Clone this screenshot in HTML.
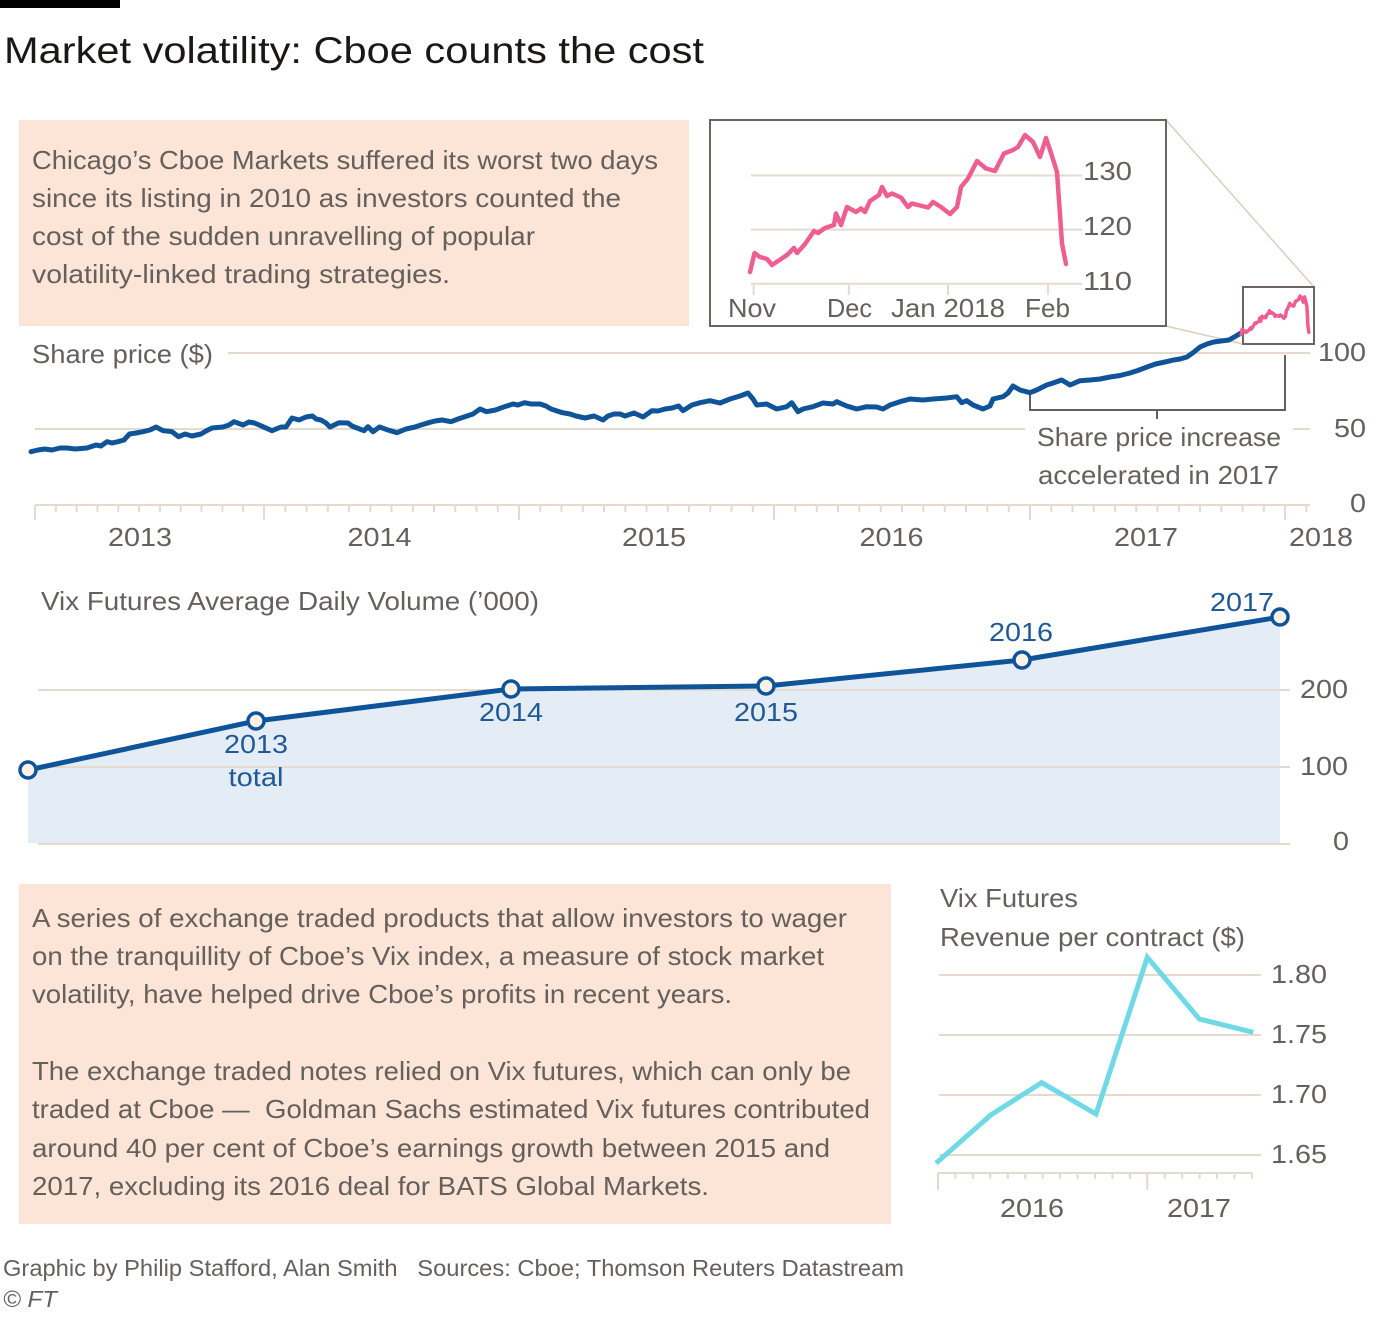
<!DOCTYPE html>
<html>
<head>
<meta charset="utf-8">
<style>
  html, body { margin: 0; padding: 0; background: #ffffff; }
  svg { display: block; }
  text { font-family: "Liberation Sans", "DejaVu Sans", sans-serif; }
</style>
</head>
<body>
<svg width="1400" height="1340" viewBox="0 0 1400 1340" xmlns="http://www.w3.org/2000/svg">
  <rect x="0" y="0" width="1400" height="1340" fill="#ffffff"/>

  <!-- top bar + title -->
  <rect x="0" y="0" width="120" height="8" fill="#000000"/>
  <text x="4" y="63" font-size="37" fill="#1a1817" textLength="700" lengthAdjust="spacingAndGlyphs">Market volatility: Cboe counts the cost</text>

  <!-- intro box -->
  <rect x="19" y="120" width="670" height="206" fill="#fce4d6"/>
  <g font-size="26" fill="#66605c">
    <text x="32" y="169" textLength="626" lengthAdjust="spacingAndGlyphs">Chicago’s Cboe Markets suffered its worst two days</text>
    <text x="32" y="207" textLength="589" lengthAdjust="spacingAndGlyphs">since its listing in 2010 as investors counted the</text>
    <text x="32" y="245" textLength="503" lengthAdjust="spacingAndGlyphs">cost of the sudden unravelling of popular</text>
    <text x="32" y="283" textLength="418" lengthAdjust="spacingAndGlyphs">volatility-linked trading strategies.</text>
  </g>

  <!-- connector lines -->
  <line x1="1166" y1="120" x2="1314" y2="287" stroke="#dccdbd" stroke-width="1.5"/>
  <line x1="1166" y1="326" x2="1243" y2="344" stroke="#dccdbd" stroke-width="1.5"/>

  <!-- inset chart -->
  <rect x="710" y="120" width="456" height="206" fill="#ffffff" stroke="#6b6461" stroke-width="2"/>
  <g stroke="#e6d9ce" stroke-width="2">
    <line x1="751" y1="175.5" x2="1082" y2="175.5"/>
    <line x1="751" y1="229.6" x2="1082" y2="229.6"/>
    <line x1="751" y1="283.7" x2="1082" y2="283.7"/>
    <path d="M753.6,283.7 V295 M848.8,283.7 V295 M948,283.7 V295 M1048,283.7 V295"/>
  </g>
  <g font-size="26" fill="#66605c">
    <text x="1083" y="180" textLength="49" lengthAdjust="spacingAndGlyphs">130</text>
    <text x="1083" y="235" textLength="49" lengthAdjust="spacingAndGlyphs">120</text>
    <text x="1083" y="290" textLength="49" lengthAdjust="spacingAndGlyphs">110</text>
    <text x="728" y="317" textLength="48" lengthAdjust="spacingAndGlyphs">Nov</text>
    <text x="827" y="317" textLength="45" lengthAdjust="spacingAndGlyphs">Dec</text>
    <text x="891" y="317" textLength="114" lengthAdjust="spacingAndGlyphs">Jan 2018</text>
    <text x="1025" y="317" textLength="45" lengthAdjust="spacingAndGlyphs">Feb</text>
  </g>
  <polyline fill="none" stroke="#ee5f8f" stroke-width="4.5" stroke-linejoin="round" stroke-linecap="round"
    points="750,272 754.5,253 760,257 767,259 772,265 778,261 787,255 794,248 797,253 805,244 814,231 818,233 825,228 834,225 836,213.5 841,225 847,207 856,212 861,208.5 865,212 870,201 879,195 882,187 887,196 892,193.5 901,197.5 908,207 912,203.5 928,207.5 933,202 941,207 950,214 957,207 961,187 968,178.5 977,161 986,168.5 995,171 1004,153.5 1013,150 1018,147 1025,135 1033,142 1040,157 1046,138 1051,153 1057,172 1062,243.5 1066,264"/>

  <!-- share price main chart -->
  <g stroke="#e6d9ce" stroke-width="2">
    <line x1="228" y1="353" x2="1310" y2="353"/>
    <line x1="35" y1="429" x2="1025" y2="429"/>
    <line x1="1293" y1="429" x2="1310" y2="429"/>
    <line x1="35" y1="505" x2="1310" y2="505"/>
    <path d="M35,505 V520 M264,505 V520 M519,505 V520 M774,505 V520 M1030,505 V520 M1285,505 V520"/>
    <path d="M55.8,505 v7 M76.6,505 v7 M97.5,505 v7 M118.3,505 v7 M139.1,505 v7 M159.9,505 v7 M180.7,505 v7 M201.5,505 v7 M222.4,505 v7 M243.2,505 v7
             M285.3,505 v7 M306.5,505 v7 M327.8,505 v7 M349,505 v7 M370.3,505 v7 M391.5,505 v7 M412.8,505 v7 M434,505 v7 M455.3,505 v7 M476.5,505 v7 M497.8,505 v7
             M540.3,505 v7 M561.5,505 v7 M582.8,505 v7 M604,505 v7 M625.3,505 v7 M646.5,505 v7 M667.8,505 v7 M689,505 v7 M710.3,505 v7 M731.5,505 v7 M752.8,505 v7
             M795.3,505 v7 M816.7,505 v7 M838,505 v7 M859.3,505 v7 M880.7,505 v7 M902,505 v7 M923.3,505 v7 M944.7,505 v7 M966,505 v7 M987.3,505 v7 M1008.7,505 v7
             M1051.3,505 v7 M1072.5,505 v7 M1093.8,505 v7 M1115,505 v7 M1136.3,505 v7 M1157.5,505 v7 M1178.8,505 v7 M1200,505 v7 M1221.3,505 v7 M1242.5,505 v7 M1263.8,505 v7
             M1306.3,505 v7"/>
  </g>
  <g font-size="26" fill="#66605c">
    <text x="32" y="363" textLength="181" lengthAdjust="spacingAndGlyphs">Share price ($)</text>
    <text x="1318" y="361" textLength="48" lengthAdjust="spacingAndGlyphs">100</text>
    <text x="1334" y="437" textLength="32" lengthAdjust="spacingAndGlyphs">50</text>
    <text x="1350" y="512" textLength="16" lengthAdjust="spacingAndGlyphs">0</text>
    <text x="140" y="546" text-anchor="middle" textLength="64" lengthAdjust="spacingAndGlyphs">2013</text>
    <text x="379.5" y="546" text-anchor="middle" textLength="64" lengthAdjust="spacingAndGlyphs">2014</text>
    <text x="654" y="546" text-anchor="middle" textLength="64" lengthAdjust="spacingAndGlyphs">2015</text>
    <text x="891.5" y="546" text-anchor="middle" textLength="64" lengthAdjust="spacingAndGlyphs">2016</text>
    <text x="1146" y="546" text-anchor="middle" textLength="64" lengthAdjust="spacingAndGlyphs">2017</text>
    <text x="1321" y="546" text-anchor="middle" textLength="64" lengthAdjust="spacingAndGlyphs">2018</text>
    <text x="1037" y="446" textLength="244" lengthAdjust="spacingAndGlyphs">Share price increase</text>
    <text x="1038" y="484" textLength="241" lengthAdjust="spacingAndGlyphs">accelerated in 2017</text>
  </g>
  <!-- annotation bracket -->
  <path d="M1030,392 V410 H1285 V355 M1157,410 V419" fill="none" stroke="#66605c" stroke-width="2"/>

  <polyline fill="none" stroke="#0f5499" stroke-width="5" stroke-linejoin="round" stroke-linecap="round"
    points="31,451.7 38,450 44.6,449 52,450 60,448 67,448 75,449 87,448 96,445 101,446 107,441.7 112,443 118,441.7 124,440 129.5,434 136,433 143,431.7 150,430 156,427 163,430.7 172,431.7 178.6,436.7 185,434 192,436 201,434 206,431 212,428 223,427 229,425 234,421.7 243,425 249,422 254.5,423 263,426.7 272,430.7 281,427 286,427 292,418 299,420 306,417 312.5,416 316,419 321,420 326,423 330,427 339,422.7 348,423 352,426 357,428 364,430.7 368,426.7 373,431.7 379.5,427 388,430 397,432.7 406,429 415,427 421,425 428.6,422.7 435,421 442,420 451,421.7 458,419 464,417 473,414 480,409 486.6,411.7 495.5,410 504.5,406.7 513,404 518,405 524.5,402.7 531,404 540,404 546,406 551,409 557,411 562.5,412.7 570,414 576,416 585,418 594,416 603,420 608,416 614,414 620,414 625,416 634,413 643,417 652,410.7 658,411 665,409 672,408 678.6,406 683,410.7 692,405 700,402.7 710,400.7 720,403 730,399 740,396 748,393 753,399 756.7,405 766.7,404 776.7,409 786.7,406.7 791.7,402.7 798,411.7 803,409 813,406.7 823,403 833,404 836.7,401.7 846.7,406 856.7,409 866.7,406.7 876.7,407 883,409 890,405 900,401.7 910,399 923,400 933,399 946.7,398 956.7,396.7 961.7,402.7 966.7,400.7 973,405 983,409 990,406 993,399 1003,396.7 1008,393 1013,386 1020,390 1030,392.7 1036.7,390 1046.7,385 1053,383 1061.7,380 1070,385 1080,380.7 1090,380 1100,379 1110,377 1120,375.5 1130,373 1137.8,370.5 1147,367 1155.6,364 1165,362 1173.5,360 1180,359 1187,357 1194,352 1200,347 1207,344 1213.7,342 1221,341 1229,340 1236,336 1241,333"/>

  <!-- small box + mini pink -->
  <rect x="1243" y="287" width="71" height="57" fill="none" stroke="#6b6461" stroke-width="2"/>
  <g transform="matrix(0.214 0 0 0.281 1080.7 258.1)">
    <polyline fill="none" stroke="#ee5f8f" stroke-width="3.5" stroke-linejoin="round" stroke-linecap="round" vector-effect="non-scaling-stroke"
      points="750,272 754.5,253 760,257 767,259 772,265 778,261 787,255 794,248 797,253 805,244 814,231 818,233 825,228 834,225 836,213.5 841,225 847,207 856,212 861,208.5 865,212 870,201 879,195 882,187 887,196 892,193.5 901,197.5 908,207 912,203.5 928,207.5 933,202 941,207 950,214 957,207 961,187 968,178.5 977,161 986,168.5 995,171 1004,153.5 1013,150 1018,147 1025,135 1033,142 1040,157 1046,138 1051,153 1057,172 1062,243.5 1066,264"/>
  </g>

  <!-- Vix futures ADV chart -->
  <text x="41" y="610" font-size="26" fill="#66605c" textLength="498" lengthAdjust="spacingAndGlyphs">Vix Futures Average Daily Volume (’000)</text>
  <polygon points="28,770 256,721 511,689 766,686 1022,660 1280,617 1280,843 28,843" fill="#e4ecf5"/>
  <g stroke="#e6d9ce" stroke-width="2">
    <line x1="38" y1="690" x2="1290" y2="690"/>
    <line x1="38" y1="767" x2="1290" y2="767"/>
    <line x1="38" y1="844" x2="1290" y2="844"/>
  </g>
  <polyline points="28,770 256,721 511,689 766,686 1022,660 1280,617" fill="none" stroke="#0f5499" stroke-width="5" stroke-linejoin="round"/>
  <g fill="#fff1e5" stroke="#0f5499" stroke-width="3.5">
    <circle cx="28" cy="770" r="8"/>
    <circle cx="256" cy="721" r="8"/>
    <circle cx="511" cy="689" r="8"/>
    <circle cx="766" cy="686" r="8"/>
    <circle cx="1022" cy="660" r="8"/>
    <circle cx="1280" cy="617" r="8"/>
  </g>
  <g font-size="26" fill="#1f5a96">
    <text x="256" y="753" text-anchor="middle" textLength="64" lengthAdjust="spacingAndGlyphs">2013</text>
    <text x="256" y="786" text-anchor="middle" textLength="55" lengthAdjust="spacingAndGlyphs">total</text>
    <text x="511" y="721" text-anchor="middle" textLength="64" lengthAdjust="spacingAndGlyphs">2014</text>
    <text x="766" y="721" text-anchor="middle" textLength="64" lengthAdjust="spacingAndGlyphs">2015</text>
    <text x="1021" y="641" text-anchor="middle" textLength="64" lengthAdjust="spacingAndGlyphs">2016</text>
    <text x="1242" y="611" text-anchor="middle" textLength="64" lengthAdjust="spacingAndGlyphs">2017</text>
  </g>
  <g font-size="26" fill="#66605c">
    <text x="1300" y="698" textLength="48" lengthAdjust="spacingAndGlyphs">200</text>
    <text x="1300" y="775" textLength="48" lengthAdjust="spacingAndGlyphs">100</text>
    <text x="1333" y="850" textLength="16" lengthAdjust="spacingAndGlyphs">0</text>
  </g>

  <!-- lower text box -->
  <rect x="19" y="884" width="872" height="340" fill="#fce4d6"/>
  <g font-size="26" fill="#66605c">
    <text x="32" y="927" textLength="815" lengthAdjust="spacingAndGlyphs">A series of exchange traded products that allow investors to wager</text>
    <text x="32" y="965" textLength="792" lengthAdjust="spacingAndGlyphs">on the tranquillity of Cboe’s Vix index, a measure of stock market</text>
    <text x="32" y="1003" textLength="700" lengthAdjust="spacingAndGlyphs">volatility, have helped drive Cboe’s profits in recent years.</text>
    <text x="32" y="1080" textLength="819" lengthAdjust="spacingAndGlyphs">The exchange traded notes relied on Vix futures, which can only be</text>
    <text x="32" y="1118" textLength="838" lengthAdjust="spacingAndGlyphs">traded at Cboe —&#160;&#160;Goldman Sachs estimated Vix futures contributed</text>
    <text x="32" y="1157" textLength="798" lengthAdjust="spacingAndGlyphs">around 40 per cent of Cboe’s earnings growth between 2015 and</text>
    <text x="32" y="1195" textLength="677" lengthAdjust="spacingAndGlyphs">2017, excluding its 2016 deal for BATS Global Markets.</text>
  </g>

  <!-- revenue per contract chart -->
  <g font-size="26" fill="#66605c">
    <text x="940" y="907" textLength="138" lengthAdjust="spacingAndGlyphs">Vix Futures</text>
    <text x="940" y="946" textLength="305" lengthAdjust="spacingAndGlyphs">Revenue per contract ($)</text>
    <text x="1271" y="983" textLength="56" lengthAdjust="spacingAndGlyphs">1.80</text>
    <text x="1271" y="1043" textLength="56" lengthAdjust="spacingAndGlyphs">1.75</text>
    <text x="1271" y="1103" textLength="56" lengthAdjust="spacingAndGlyphs">1.70</text>
    <text x="1271" y="1163" textLength="56" lengthAdjust="spacingAndGlyphs">1.65</text>
    <text x="1032" y="1217" text-anchor="middle" textLength="64" lengthAdjust="spacingAndGlyphs">2016</text>
    <text x="1199" y="1217" text-anchor="middle" textLength="64" lengthAdjust="spacingAndGlyphs">2017</text>
  </g>
  <g stroke="#e6d9ce" stroke-width="2">
    <line x1="939" y1="975" x2="1261" y2="975"/>
    <line x1="939" y1="1035" x2="1261" y2="1035"/>
    <line x1="939" y1="1095" x2="1261" y2="1095"/>
    <line x1="939" y1="1155" x2="1261" y2="1155"/>
    <line x1="938" y1="1173" x2="1252" y2="1173"/>
    <path d="M938,1173 V1190 M1147.3,1173 V1190"/>
    <path d="M955.4,1173 v6 M972.9,1173 v6 M990.3,1173 v6 M1007.8,1173 v6 M1025.2,1173 v6 M1042.7,1173 v6 M1060.1,1173 v6 M1077.5,1173 v6 M1095,1173 v6 M1112.4,1173 v6 M1129.9,1173 v6 M1164.7,1173 v6 M1182.2,1173 v6 M1199.6,1173 v6 M1217,1173 v6 M1234.5,1173 v6 M1252,1173 v6"/>
  </g>
  <polyline points="936,1163.3 990.7,1115 1041.7,1082.7 1096,1114 1147.3,957.3 1199.3,1019 1253.3,1032.3" fill="none" stroke="#6fd9e5" stroke-width="5" stroke-linejoin="miter"/>

  <!-- footer -->
  <text x="3" y="1276" font-size="23" fill="#66605c" textLength="901" lengthAdjust="spacingAndGlyphs">Graphic by Philip Stafford, Alan Smith&#160;&#160;&#160;Sources: Cboe; Thomson Reuters Datastream</text>
  <text x="3" y="1307" font-size="23" fill="#66605c" font-style="italic" textLength="54" lengthAdjust="spacingAndGlyphs">© FT</text>
</svg>
</body>
</html>
